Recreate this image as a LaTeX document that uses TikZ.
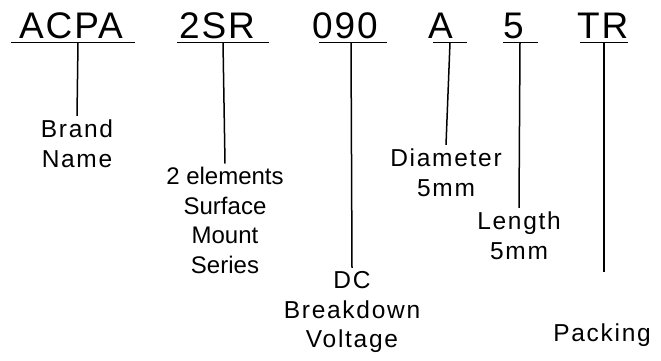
\documentclass[tikz,border=0pt]{standalone}
\usepackage{fontspec}
\setmainfont{Liberation Sans}
\newfontfamily\codefont[LetterSpace=5]{Liberation Sans}
\newfontfamily\lblfont[LetterSpace=7]{Liberation Sans}
\begin{document}
\begin{tikzpicture}[x=1pt,y=1pt,
  code/.style={anchor=base west, inner sep=0pt, font=\codefont\fontsize{37}{42}\selectfont},
  lbl/.style={anchor=north, align=center, inner sep=0pt, outer sep=4pt, font=\lblfont\fontsize{24.5}{29.5}\selectfont},
  uline/.style={line width=1.8pt},
  link/.style={line width=1.5pt}]
\useasboundingbox (0,0) rectangle (661,-360);
% part number
\node[code] (acpa) at (19,-38) {ACPA};
\node[code] (tsr) at (179,-38) {2SR};
\node[code] (vbd) at (312,-38) {090};
\node[code] (dia) at (428,-38) {A};
\node[code] (len) at (503,-38) {5};
\node[code] (pkg) at (577,-38) {TR};
\draw[uline] (11,-42.5) -- (135,-42.5);
\draw[uline] (177,-42.5) -- (269,-42.5);
\draw[uline] (319,-42.5) -- (387,-42.5);
\draw[uline] (433,-42.5) -- (467,-42.5);
\draw[uline] (503,-42.5) -- (538,-42.5);
\draw[uline] (580,-42.5) -- (628,-42.5);
\coordinate (acpa-u) at (78,-42.5);
\coordinate (tsr-u) at (223,-42.5);
\coordinate (vbd-u) at (351,-42.5);
\coordinate (dia-u) at (450,-42.5);
\coordinate (len-u) at (520,-42.5);
\coordinate (pkg-u) at (604,-42.5);
% meanings
\node[lbl] (brand) at (77,-115.8) {Brand\\Name};
\node[lbl, font=\fontsize{24}{29.5}\selectfont] (series) at (225,-163.5) {2 elements\\Surface\\Mount\\Series};
\node[lbl] (volt) at (352,-267.8) {DC\\Breakdown\\Voltage};
\node[lbl] (diam) at (446,-144.8) {Diameter\\5mm};
\node[lbl] (leng) at (519,-207.8) {Length\\5mm};
\node[lbl] (pack) at (602,-320) {Packing};
\coordinate (pkg-e) at (604,-272);
\draw[link] (acpa-u) -- (brand.north);
\draw[link] (tsr-u) -- (series.north);
\draw[link] (vbd-u) -- (volt.north);
\draw[link] (dia-u) -- (diam.north);
\draw[link] (len-u) -- (leng.north);
\draw[link] (pkg-u) -- (pkg-e);
\end{tikzpicture}
\end{document}
